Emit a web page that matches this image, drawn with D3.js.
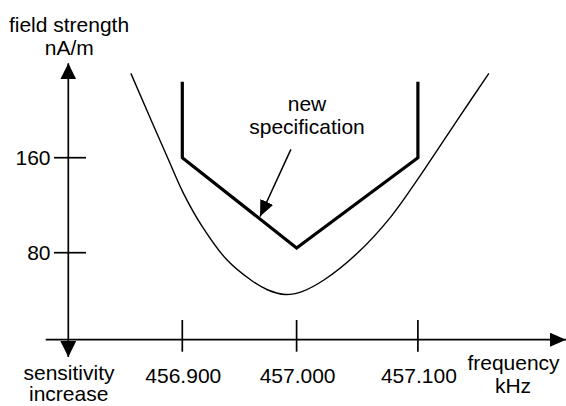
<!DOCTYPE html>
<html>
<head>
<meta charset="utf-8">
<script src="https://cdn.jsdelivr.net/npm/d3@7"></script>
<style>
  body { margin: 0; background: #fff; }
  svg { display: block; }
  text { font-family: "Liberation Sans", Arial, sans-serif; font-size: 21px; fill: #000; }
</style>
</head>
<body>
<script>
// receiver response curve (kHz, nA/m)
var curveFreq = [456.855, 456.888, 456.901, 456.9175, 456.939, 456.960, 456.975, 456.990,
                 457.005, 457.0225, 457.050, 457.0775, 457.105, 457.1325, 457.1585];
var curveVals = [231, 158, 130, 102, 74, 57, 48.6, 44.8,
                 47.5, 57, 79.5, 110, 149.6, 191.7, 231];

// new specification limit
var specFreq = [456.9, 456.9, 457.0, 457.1, 457.1];
var specVals = [224, 160, 84, 160, 224];

var xTicks = [456.9, 457.0, 457.1];
var xTickLabels = ["456.900", "457.000", "457.100"];
var yTicks = [80, 160];

var w = 566, h = 406;
var axisY = 339.7, axisX = 68.3;

var svg = d3.select("body").append("svg")
  .attr("width", w).attr("height", h);

var x = d3.scaleLinear()
  .domain([456.9, 457.0, 457.1])
  .range([182.3, 296.6, 417.9]);
var y = d3.scaleLinear()
  .domain([80, 160])
  .range([252.7, 157.7]);

// arrow markers
var defs = svg.append("defs");
defs.append("marker")
  .attr("id", "ah").attr("viewBox", "0 0 16 16")
  .attr("refX", 16).attr("refY", 8)
  .attr("markerWidth", 16).attr("markerHeight", 16)
  .attr("markerUnits", "userSpaceOnUse")
  .attr("orient", "auto")
  .append("path").attr("d", "M0,0 L16,8 L0,16 Z").attr("fill", "#000");
defs.append("marker")
  .attr("id", "ah2").attr("viewBox", "0 0 16 14")
  .attr("refX", 16).attr("refY", 7)
  .attr("markerWidth", 16).attr("markerHeight", 14)
  .attr("markerUnits", "userSpaceOnUse")
  .attr("orient", "auto")
  .append("path").attr("d", "M0,0 L16,7 L0,14 Z").attr("fill", "#000");

// x axis
svg.append("line")
  .attr("x1", 45.7).attr("y1", axisY).attr("x2", 566).attr("y2", axisY)
  .attr("stroke", "#000").attr("stroke-width", 1.7)
  .attr("marker-end", "url(#ah2)");

// y axis, arrows both ways
svg.append("line")
  .attr("x1", axisX).attr("y1", 200).attr("x2", axisX).attr("y2", 63.3)
  .attr("stroke", "#000").attr("stroke-width", 1.7)
  .attr("marker-end", "url(#ah)");
svg.append("line")
  .attr("x1", axisX).attr("y1", 200).attr("x2", axisX).attr("y2", 357)
  .attr("stroke", "#000").attr("stroke-width", 1.7)
  .attr("marker-end", "url(#ah)");

svg.selectAll(".xtick")
  .data(xTicks)
  .enter()
  .append("line")
  .attr("x1", function(d){ return x(d); })
  .attr("x2", function(d){ return x(d); })
  .attr("y1", 320).attr("y2", 351.7)
  .attr("stroke", "#000").attr("stroke-width", 1.7);

svg.selectAll(".xlab")
  .data(xTicks)
  .enter()
  .append("text")
  .attr("x", function(d){ return x(d) + 1; })
  .attr("y", 383.3)
  .attr("text-anchor", "middle")
  .text(function(d, i){ return xTickLabels[i]; });

svg.selectAll(".ytick")
  .data(yTicks)
  .enter()
  .append("line")
  .attr("x1", 54).attr("x2", 86)
  .attr("y1", function(d){ return y(d); })
  .attr("y2", function(d){ return y(d); })
  .attr("stroke", "#000").attr("stroke-width", 1.7);

svg.selectAll(".ylab")
  .data(yTicks)
  .enter()
  .append("text")
  .attr("x", 50.5)
  .attr("y", function(d){ return y(d) + 6.8; })
  .attr("text-anchor", "end")
  .text(function(d){ return d; });

// response curve
var curvePts = curveFreq.map(function(f, i){ return [f, curveVals[i]]; });
svg.append("path")
  .datum(curvePts)
  .attr("fill", "none").attr("stroke", "#000").attr("stroke-width", 1.4)
  .attr("d", d3.line()
    .x(function(d){ return x(d[0]); })
    .y(function(d){ return y(d[1]); })
    .curve(d3.curveCatmullRom.alpha(0.5)));

// spec polyline
var specPts = specFreq.map(function(f, i){ return [f, specVals[i]]; });
svg.append("path")
  .datum(specPts)
  .attr("fill", "none").attr("stroke", "#000").attr("stroke-width", 3.2)
  .attr("stroke-linejoin", "miter")
  .attr("d", d3.line()
    .x(function(d){ return x(d[0]); })
    .y(function(d){ return y(d[1]); }));

// annotation arrow
var noteFrom = [456.995, 167];
var noteTo = [456.968, 110.5];
svg.append("line")
  .attr("x1", x(noteFrom[0])).attr("y1", y(noteFrom[1]))
  .attr("x2", x(noteTo[0])).attr("y2", y(noteTo[1]))
  .attr("stroke", "#000").attr("stroke-width", 1.5)
  .attr("marker-end", "url(#ah2)");

svg.append("text").attr("x", 307).attr("y", 110.7).attr("text-anchor", "middle").text("new");
svg.append("text").attr("x", 307).attr("y", 134).attr("text-anchor", "middle").text("specification");

// axis titles
svg.append("text").attr("x", 69).attr("y", 31.7).attr("text-anchor", "middle").text("field strength");
svg.append("text").attr("x", 69.3).attr("y", 55).attr("text-anchor", "middle").text("nA/m");
svg.append("text").attr("x", 69).attr("y", 380).attr("text-anchor", "middle").text("sensitivity");
svg.append("text").attr("x", 68.7).attr("y", 401).attr("text-anchor", "middle").text("increase");
svg.append("text").attr("x", 513.5).attr("y", 370).attr("text-anchor", "middle").text("frequency");
svg.append("text").attr("x", 513).attr("y", 392.7).attr("text-anchor", "middle").text("kHz");
</script>
</body>
</html>
